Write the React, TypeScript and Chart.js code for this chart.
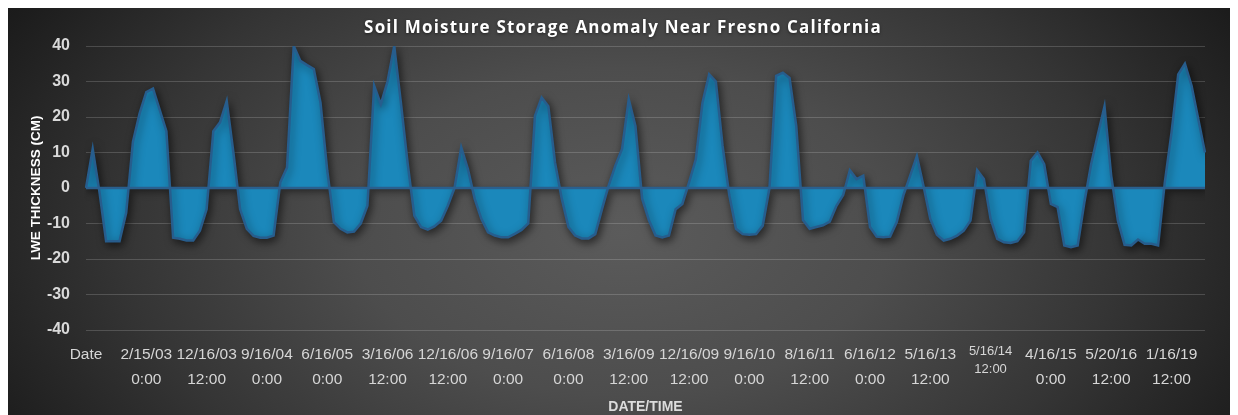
import React, { useEffect, useRef } from 'react';
import { Chart, registerables } from 'chart.js';

Chart.register(...registerables);

// LWE thickness anomaly (cm), one value per category
const values: number[] = [
  0, 11, -1, -15, -15, -15, -7, 13, 21, 27,
  28, 22, 16, -14, -14.3, -14.8, -14.8, -12, -6, 16,
  18.5, 24.5, 10, -6, -11.5, -13.5, -14, -14, -13.4, 1.6,
  5.8, 40, 35.8, 34.6, 33.5, 24, 5, -9.6, -11.5, -12.5,
  -12.3, -10, -5, 28.8, 23.6, 30, 40, 24, 7, -7.8,
  -11, -11.7, -10.8, -9.2, -5, 0, 11.4, 5.3, -3, -8.7,
  -12.5, -13.4, -13.9, -13.9, -12.9, -11.8, -10, 20.3, 25.5, 23,
  7.2, -3, -11, -13.4, -14.2, -14.2, -13, -6, 0.7, 6.3,
  11, 25, 17.5, -3, -9, -13.4, -13.9, -13.4, -6, -4.5,
  1.6, 8, 24, 32, 30, 12, -2, -11.5, -13, -13.2,
  -13, -10.6, 0, 31.6, 32.5, 31, 17.5, -9, -11.5, -11,
  -10.5, -9.5, -5, -2, 5, 2.5, 3.5, -11, -13.7, -13.9,
  -13.7, -9.6, -2, 3.5, 9, 0.5, -8.7, -13.2, -14.8, -14.3,
  -13.4, -12, -9.2, 5, 2.5, -8.7, -14.3, -15.3, -15.5, -15,
  -12.5, 7.7, 10, 6.7, -4.5, -5.4, -16.2, -16.7, -16.2, -4,
  6.7, 15, 23, 3.5, -9.2, -16, -16.2, -14.5, -15.7, -15.7,
  -16.2, 1.6, 15.6, 32, 35, 28.8, 19.4, 10,
];

// Labels shown on the category axis (one every TICK_EVERY categories)
const tickLabels: (string | string[])[] = [
  'Date',
  ['2/15/03', '0:00'],
  ['12/16/03', '12:00'],
  ['9/16/04', '0:00'],
  ['6/16/05', '0:00'],
  ['3/16/06', '12:00'],
  ['12/16/06', '12:00'],
  ['9/16/07', '0:00'],
  ['6/16/08', '0:00'],
  ['3/16/09', '12:00'],
  ['12/16/09', '12:00'],
  ['9/16/10', '0:00'],
  ['8/16/11', '12:00'],
  ['6/16/12', '0:00'],
  ['5/16/13', '12:00'],
  ['5/16/14', '12:00'],
  ['4/16/15', '0:00'],
  ['5/20/16', '12:00'],
  ['1/16/19', '12:00'],
];
const TICK_EVERY = 9;
const SMALL_LABEL = 15; // the label drawn smaller in the original

const yTicks = [-40, -30, -20, -10, 0, 10, 20, 30, 40];

const TITLE = 'Soil Moisture Storage Anomaly Near Fresno California';
const Y_TITLE = 'LWE THICKNESS (CM)';
const X_TITLE = 'DATE/TIME';

const categories = values.map((_, i) =>
  i % TICK_EVERY === 0 && tickLabels[i / TICK_EVERY] !== undefined ? tickLabels[i / TICK_EVERY] : ''
);

const shadowPlugin = {
  id: 'areaShadow',
  beforeDatasetsDraw(chart: any) {
    const c = chart.ctx;
    c.save();
    c.shadowColor = 'rgba(0,0,0,0.55)';
    c.shadowBlur = 8;
    c.shadowOffsetX = 2;
    c.shadowOffsetY = 3;
  },
  afterDatasetsDraw(chart: any) {
    chart.ctx.restore();
    // baseline of the area outline
    const c = chart.ctx;
    const y = chart.scales.y.getPixelForValue(0);
    c.save();
    c.strokeStyle = '#2a5f8e';
    c.lineWidth = 2.5;
    c.beginPath();
    c.moveTo(chart.chartArea.left, y);
    c.lineTo(chart.chartArea.right, y);
    c.stroke();
    c.restore();
  },
};

// Chart title with letter spacing (Chart.js title has none)
const spacedTitlePlugin = {
  id: 'spacedTitle',
  afterDraw(chart: any) {
    const c = chart.ctx;
    c.save();
    c.font = 'bold 17px "Open Sans", sans-serif';
    (c as any).letterSpacing = '1.2px';
    c.fillStyle = '#ffffff';
    c.textAlign = 'center';
    c.textBaseline = 'middle';
    c.shadowColor = 'rgba(0,0,0,0.5)';
    c.shadowBlur = 3;
    c.shadowOffsetY = 1;
    c.fillText(TITLE, chart.width / 2, 20);
    c.restore();
  },
};

export default function App() {
  const ref = useRef<HTMLCanvasElement>(null);
  useEffect(() => {
    if (!ref.current) return;
    const chart = new Chart(ref.current, {
      type: 'line',
      data: {
        labels: categories as any,
        datasets: [
          {
            data: values,
            fill: 'origin',
            backgroundColor: '#1b88bb',
            borderColor: '#275d8d',
            borderWidth: 2.5,
            pointRadius: 0,
            tension: 0,
          },
        ],
      },
      options: {
        responsive: false,
        animation: false,
        layout: { padding: { left: 0, right: 33, top: 38, bottom: 0 } },
        plugins: {
          legend: { display: false },
          tooltip: { enabled: false },
          title: { display: false },
        },
        scales: {
          x: {
            type: 'category',
            grid: { display: false },
            border: { display: false },
            ticks: {
              autoSkip: false,
              maxRotation: 0,
              minRotation: 0,
              padding: 4,
              color: '#d6d6d6',
              font: (ctx: any) =>
                ctx.index === SMALL_LABEL * TICK_EVERY
                  ? { family: '"Liberation Sans", Arial, sans-serif', size: 13, lineHeight: '18px' }
                  : { family: '"Liberation Sans", Arial, sans-serif', size: 15.5, lineHeight: '25px' },
              callback: (_v: any, i: number) => categories[i],
            },
            title: {
              display: true,
              text: X_TITLE,
              color: '#dcdcdc',
              font: { family: '"Liberation Sans", Arial, sans-serif', size: 14, weight: 'bold', lineHeight: 1 },
              padding: { top: 0, bottom: 1 },
            },
            afterFit: (s: any) => {
              s.height = 85;
            },
          },
          y: {
            min: -40,
            max: 40,
            afterBuildTicks: (s: any) => {
              s.ticks = yTicks.map((v) => ({ value: v }));
            },
            grid: { color: 'rgba(255,255,255,0.17)', lineWidth: 1, drawTicks: false },
            border: { display: false },
            ticks: {
              padding: 16,
              color: '#d9d9d9',
              font: { family: '"Liberation Sans", Arial, sans-serif', size: 16, weight: 'bold' },
            },
            title: {
              display: true,
              text: Y_TITLE,
              color: '#ffffff',
              font: { family: '"Liberation Sans", Arial, sans-serif', size: 13.5, weight: 'bold' },
              padding: { top: 20, bottom: 0 },
            },
            afterFit: (s: any) => {
              s.width = 78;
            },
          },
        },
      },
      plugins: [shadowPlugin, spacedTitlePlugin],
    });
    return () => chart.destroy();
  }, []);

  return (
    <div
      style={{
        width: 1230,
        height: 407,
        background:
          'radial-gradient(ellipse 62% 115% at 50% 55%, #5b5b5b 0%, #4d4d4d 35%, #353535 65%, #1c1c1c 92%, #161616 100%)',
      }}
    >
      <canvas ref={ref} width={1230} height={407} style={{ display: 'block' }} />
    </div>
  );
}
